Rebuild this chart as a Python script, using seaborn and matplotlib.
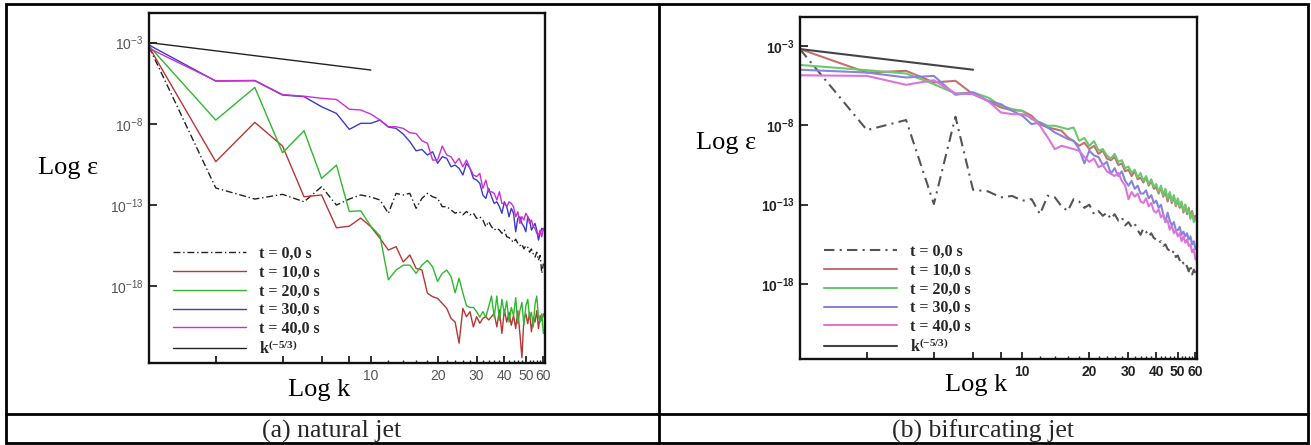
import numpy as np
import matplotlib
matplotlib.use("Agg")
import matplotlib.pyplot as plt
import seaborn as sns
from matplotlib.ticker import FixedLocator, FixedFormatter, NullFormatter, NullLocator
from matplotlib.font_manager import FontProperties
from matplotlib.patches import Rectangle
from matplotlib.lines import Line2D

# --- wavenumbers (integer k = 1..60) ---
k = list(range(1, 61))

# --- (a) natural jet : log10(epsilon) ---
nat_t0 = [-3.26, -11.95, -12.63, -12.34, -12.8, -11.87, -13.0, -12.63, -12.38, -12.5,
          -12.69, -13.51, -12.28, -12.38, -12.28, -13.2, -12.59, -12.28, -12.49, -12.59,
          -13.1, -13.1, -13.3, -13.5, -13.4, -13.6, -13.4, -13.6, -13.5, -13.82,
          -13.72, -13.92, -14.33, -14.02, -14.33, -14.54, -14.43, -14.54, -14.74, -14.54,
          -14.95, -15.0, -15.15, -15.3, -15.1, -15.36, -15.5, -15.4, -15.7, -15.5,
          -15.6, -15.9, -15.7, -16.0, -16.2, -15.9, -16.4, -16.1, -17.2, -16.6]
nat_t10 = [-3.26, -10.33, -7.91, -9.37, -12.49, -12.38, -14.4, -14.3, -13.8, -14.33,
           -15.05, -15.77, -15.56, -16.5, -16.07, -16.9, -17.0, -18.43, -18.64, -18.74,
           -19.05, -19.36, -19.97, -20.2, -21.5, -19.36, -19.87, -19.56, -20.5, -19.87,
           -20.28, -19.97, -19.87, -20.07, -19.87, -19.67, -20.5, -19.46, -20.9, -19.46,
           -20.2, -19.6, -20.4, -19.8, -20.6, -19.5, -20.9, -22.4, -20.0, -19.7,
           -20.3, -19.6, -20.8, -19.9, -20.2, -19.5, -20.6, -19.8, -20.1, -19.7]
nat_t20 = [-3.2, -7.77, -5.76, -9.78, -8.43, -11.36, -10.54, -13.4, -13.35, -14.3,
           -14.9, -17.6, -17.0, -16.7, -16.7, -17.2, -16.7, -16.4, -16.8, -17.7,
           -17.2, -17.0, -17.4, -18.4, -17.5, -18.4, -19.2, -19.3, -19.3, -19.56,
           -19.9, -19.56, -19.9, -19.25, -18.6, -19.9, -18.6, -20.1, -18.8, -19.7,
           -18.9, -20.2, -19.3, -19.8, -18.7, -20.3, -19.5, -19.0, -20.4, -19.2,
           -18.8, -20.0, -19.6, -20.5, -19.1, -18.6, -19.9, -20.2, -19.7, -20.9]
nat_t30 = [-3.15, -5.37, -5.35, -6.23, -6.33, -6.95, -7.36, -8.34, -7.97, -7.97,
           -7.77, -8.2, -8.28, -8.63, -9.1, -9.66, -9.58, -9.92, -9.72, -10.43,
           -10.02, -10.13, -10.64, -10.54, -10.74, -11.15, -10.43, -10.74, -11.36, -11.46,
           -11.66, -12.38, -12.59, -11.97, -12.49, -12.9, -12.8, -13.1, -13.51, -12.8,
           -13.1, -13.72, -13.2, -13.51, -14.64, -13.82, -13.72, -14.13, -14.33, -14.64,
           -13.72, -13.92, -14.54, -14.33, -14.13, -14.54, -15.15, -14.74, -14.43, -14.54]
nat_t40 = [-3.35, -5.35, -5.33, -6.2, -6.3, -6.43, -6.5, -7.1, -7.15, -7.4,
           -7.77, -8.18, -8.18, -8.28, -8.55, -8.6, -9.04, -9.2, -10.23, -10.23,
           -9.37, -9.92, -10.03, -10.43, -10.13, -10.64, -10.23, -10.74, -11.15, -11.25,
           -11.05, -11.97, -11.46, -12.18, -12.18, -12.28, -12.69, -12.18, -12.9, -12.9,
           -13.1, -12.8, -12.9, -13.1, -13.72, -13.41, -14.13, -13.72, -13.92, -13.51,
           -13.72, -14.13, -13.92, -14.33, -14.43, -14.74, -14.84, -14.54, -14.95, -14.43]
nat_ref_k = [1, 10]
nat_ref = [-3.0, -4.69]

# --- (b) bifurcating jet ---
bif_t0 = [-3.21, -8.3, -7.67, -12.96, -7.46, -12.06, -12.16, -12.54, -12.45, -12.75,
          -12.65, -13.6, -12.43, -12.54, -13.1, -13.4, -12.65, -12.8, -13.2, -13.0,
          -13.6, -13.4, -13.7, -13.5, -13.9, -13.6, -14.0, -13.8, -14.3, -14.1,
          -14.4, -14.2, -14.6, -14.9, -14.5, -14.7, -15.0, -14.8, -15.1, -15.2,
          -15.4, -15.3, -15.6, -15.5, -15.8, -15.9, -16.1, -15.9, -16.3, -16.2,
          -16.5, -16.4, -16.7, -16.6, -16.9, -17.2, -16.8, -17.4, -17.1, -17.3]
bif_t10 = [-3.2, -4.68, -4.57, -5.3, -5.2, -6.04, -6.46, -6.88, -7.05, -7.09,
           -7.4, -7.93, -8.14, -8.24, -8.34, -8.76, -9.0, -9.29, -9.1, -9.5,
           -9.3, -9.8, -9.6, -10.1, -10.2, -10.0, -10.5, -10.4, -10.9, -10.8,
           -11.2, -10.9, -11.4, -11.3, -11.6, -11.3, -11.8, -11.5, -12.0, -11.9,
           -12.3, -11.9, -12.5, -12.2, -12.8, -12.3, -12.9, -12.5, -13.1, -12.7,
           -13.2, -12.9, -13.5, -13.0, -13.6, -13.2, -13.8, -13.4, -13.9, -13.7]
bif_t20 = [-4.2, -4.53, -4.74, -5.41, -6.0, -5.93, -6.25, -6.77, -6.98, -7.09,
           -7.61, -7.82, -8.03, -8.03, -8.14, -8.24, -8.14, -8.97, -8.8, -9.3,
           -9.0, -9.6, -9.5, -9.9, -10.1, -9.8, -10.3, -10.2, -10.7, -10.6,
           -11.0, -10.8, -11.3, -11.0, -11.5, -11.2, -11.7, -11.4, -11.9, -11.7,
           -12.2, -11.8, -12.4, -12.0, -12.6, -12.2, -12.8, -12.4, -13.0, -12.6,
           -13.1, -12.8, -13.4, -13.0, -13.5, -13.3, -13.9, -13.5, -14.1, -13.9]
bif_t30 = [-4.5, -4.68, -4.99, -4.89, -6.08, -5.93, -6.46, -6.67, -7.09, -7.4,
           -7.93, -7.82, -8.14, -8.45, -8.66, -8.87, -8.97, -9.5, -10.4, -9.6,
           -9.9, -10.0, -10.5, -10.3, -11.06, -10.7, -11.2, -10.9, -11.5, -11.8,
           -11.5, -12.0, -11.8, -12.3, -12.3, -12.1, -12.6, -12.4, -12.9, -12.75,
           -13.2, -13.0, -13.6, -14.1, -13.5, -14.0, -14.3, -14.1, -14.6, -14.6,
           -14.4, -14.9, -14.7, -15.0, -14.8, -15.2, -15.0, -15.5, -15.3, -15.8]
bif_t40 = [-4.85, -4.89, -5.45, -5.16, -6.0, -6.04, -6.46, -7.19, -7.3, -7.3,
           -7.51, -8.03, -8.76, -9.5, -9.29, -9.4, -9.5, -9.6, -10.0, -10.3,
           -10.1, -10.64, -10.5, -10.9, -11.06, -11.2, -11.0, -11.5, -11.8, -12.65,
           -12.2, -12.5, -12.3, -12.8, -12.9, -12.6, -13.1, -12.9, -13.4, -13.5,
           -13.3, -13.8, -13.6, -14.1, -14.0, -14.57, -14.3, -14.8, -14.6, -15.0,
           -14.8, -15.3, -15.0, -15.4, -15.2, -15.6, -15.5, -16.0, -15.8, -16.45]
bif_ref_k = [1, 6]
bif_ref = [-3.2, -4.5]

labels = ["t = 0,0 s", "t = 10,0 s", "t = 20,0 s", "t = 30,0 s", "t = 40,0 s",
          "k$\\mathregular{^{(-5/3)}}$"]

x_ticks = [2, 4, 6, 8, 10, 20, 30, 40, 50, 60]
x_ticklabels = ["", "", "", "", "10", "20", "30", "40", "50", "60"]
x_minor = [12, 14, 16, 18, 22, 24, 26, 28, 32, 34, 36, 38, 42, 44, 46, 48, 52, 54, 56, 58]
y_ticks = [1e-3, 1e-8, 1e-13, 1e-18]
y_ticklabels = ["$\\mathregular{10^{-3}}$", "$\\mathregular{10^{-8}}$",
                "$\\mathregular{10^{-13}}$", "$\\mathregular{10^{-18}}$"]

sns.set_theme(style="ticks")
plt.rcParams["font.family"] = ["Liberation Serif", "DejaVu Serif"]

W, H = 1311, 445
fig = plt.figure(figsize=(W / 100, H / 100), dpi=100)


def box(x0, y0, x1, y1):
    return [x0 / W, 1 - y1 / H, (x1 - x0) / W, (y1 - y0) / H]


def panel(ax, series, colors, dash, lw, ref_k, ref_v, tick_col, tick_weight, ylab_xy, xlab_xy, leg_xy):
    ax.set_xscale("log")
    ax.set_yscale("log")
    styles = [dash, "-", "-", "-", "-"]
    for vals, c, ls, lab in zip(series, colors, styles, labels):
        sns.lineplot(x=k, y=10 ** np.array(vals), ax=ax, color=c, lw=lw, linestyle=ls,
                     label=lab, estimator=None, sort=False, legend=False)
    sns.lineplot(x=ref_k, y=10 ** np.array(ref_v), ax=ax, color=colors[5], lw=lw,
                 label=labels[5], estimator=None, sort=False, legend=False)

    ax.set_xlim(1, 61)
    ax.set_ylim(10 ** -22.72, 10 ** -1.18)
    ax.xaxis.set_major_locator(FixedLocator(x_ticks))
    ax.xaxis.set_major_formatter(FixedFormatter(x_ticklabels))
    ax.xaxis.set_minor_locator(FixedLocator(x_minor))
    ax.xaxis.set_minor_formatter(NullFormatter())
    ax.yaxis.set_major_locator(FixedLocator(y_ticks))
    ax.yaxis.set_major_formatter(FixedFormatter(y_ticklabels))
    ax.yaxis.set_minor_locator(NullLocator())
    ax.tick_params(which="major", direction="in", length=5, width=1.3, color="#222222",
                   labelsize=10, labelcolor=tick_col, pad=4)
    ax.tick_params(which="minor", direction="in", length=2.5, width=1, color="#222222")
    ax.tick_params(axis="y", length=5.5, pad=4)
    for t in ax.get_xticklabels() + ax.get_yticklabels():
        t.set_family(["Liberation Sans", "DejaVu Sans"])
        t.set_weight(tick_weight)
    for s in ax.spines.values():
        s.set_color("#111111")
        s.set_linewidth(1.7)

    ax.set_ylabel("Log ε", rotation=0, fontsize=19, ha="center", va="center", color="black")
    ax.yaxis.set_label_coords(*ylab_xy)
    ax.set_xlabel("Log k", fontsize=19, ha="center", va="center", color="black")
    ax.xaxis.set_label_coords(*xlab_xy)

    ax.legend(loc="upper left", bbox_to_anchor=(leg_xy[0] / W, 1 - leg_xy[1] / H),
              bbox_transform=fig.transFigure, frameon=False,
              prop=FontProperties(family="Liberation Serif", weight="bold", size=11.5),
              handlelength=4.6, handletextpad=0.8, labelspacing=0.17,
              borderpad=0, borderaxespad=0)


# (a) natural jet
ax_a = fig.add_axes(box(149, 13, 545, 363))
panel(ax_a, [nat_t0, nat_t10, nat_t20, nat_t30, nat_t40],
      ["#222222", "#b83636", "#2fb82f", "#3a3acb", "#cc30cc", "#222222"],
      (0, (5, 2, 1, 2)), 1.0, nat_ref_k, nat_ref, "#555555", "normal",
      (-0.205, 0.557), (0.429, -0.077), (173, 246))

# (b) bifurcating jet
ax_b = fig.add_axes(box(800, 17, 1197, 359))
panel(ax_b, [bif_t0, bif_t10, bif_t20, bif_t30, bif_t40],
      ["#555555", "#c47070", "#6cc86c", "#8585dc", "#dc74dc", "#444444"],
      (0, (5, 2.5, 1, 2.5)), 1.5, bif_ref_k, bif_ref, "#222222", "bold",
      (-0.186, 0.632), (0.443, -0.076), (824, 244))

# --- table frame and captions ---
fig.add_artist(Rectangle((6 / W, 1 - 443 / H), (1308 - 6) / W, (443 - 4) / H,
                         transform=fig.transFigure, fill=False, lw=2, color="black"))
fig.add_artist(Line2D([659 / W, 659 / W], [1 - 4 / H, 1 - 443 / H],
                      transform=fig.transFigure, lw=2, color="black"))
fig.add_artist(Line2D([6 / W, 1308 / W], [1 - 414 / H, 1 - 414 / H],
                      transform=fig.transFigure, lw=2, color="black"))
fig.text(332 / W, 1 - 431 / H, "(a) natural jet", ha="center", va="center", fontsize=18.5)
fig.text(983 / W, 1 - 431 / H, "(b) bifurcating jet", ha="center", va="center", fontsize=18.5)

fig.savefig("out.png", dpi=100)
